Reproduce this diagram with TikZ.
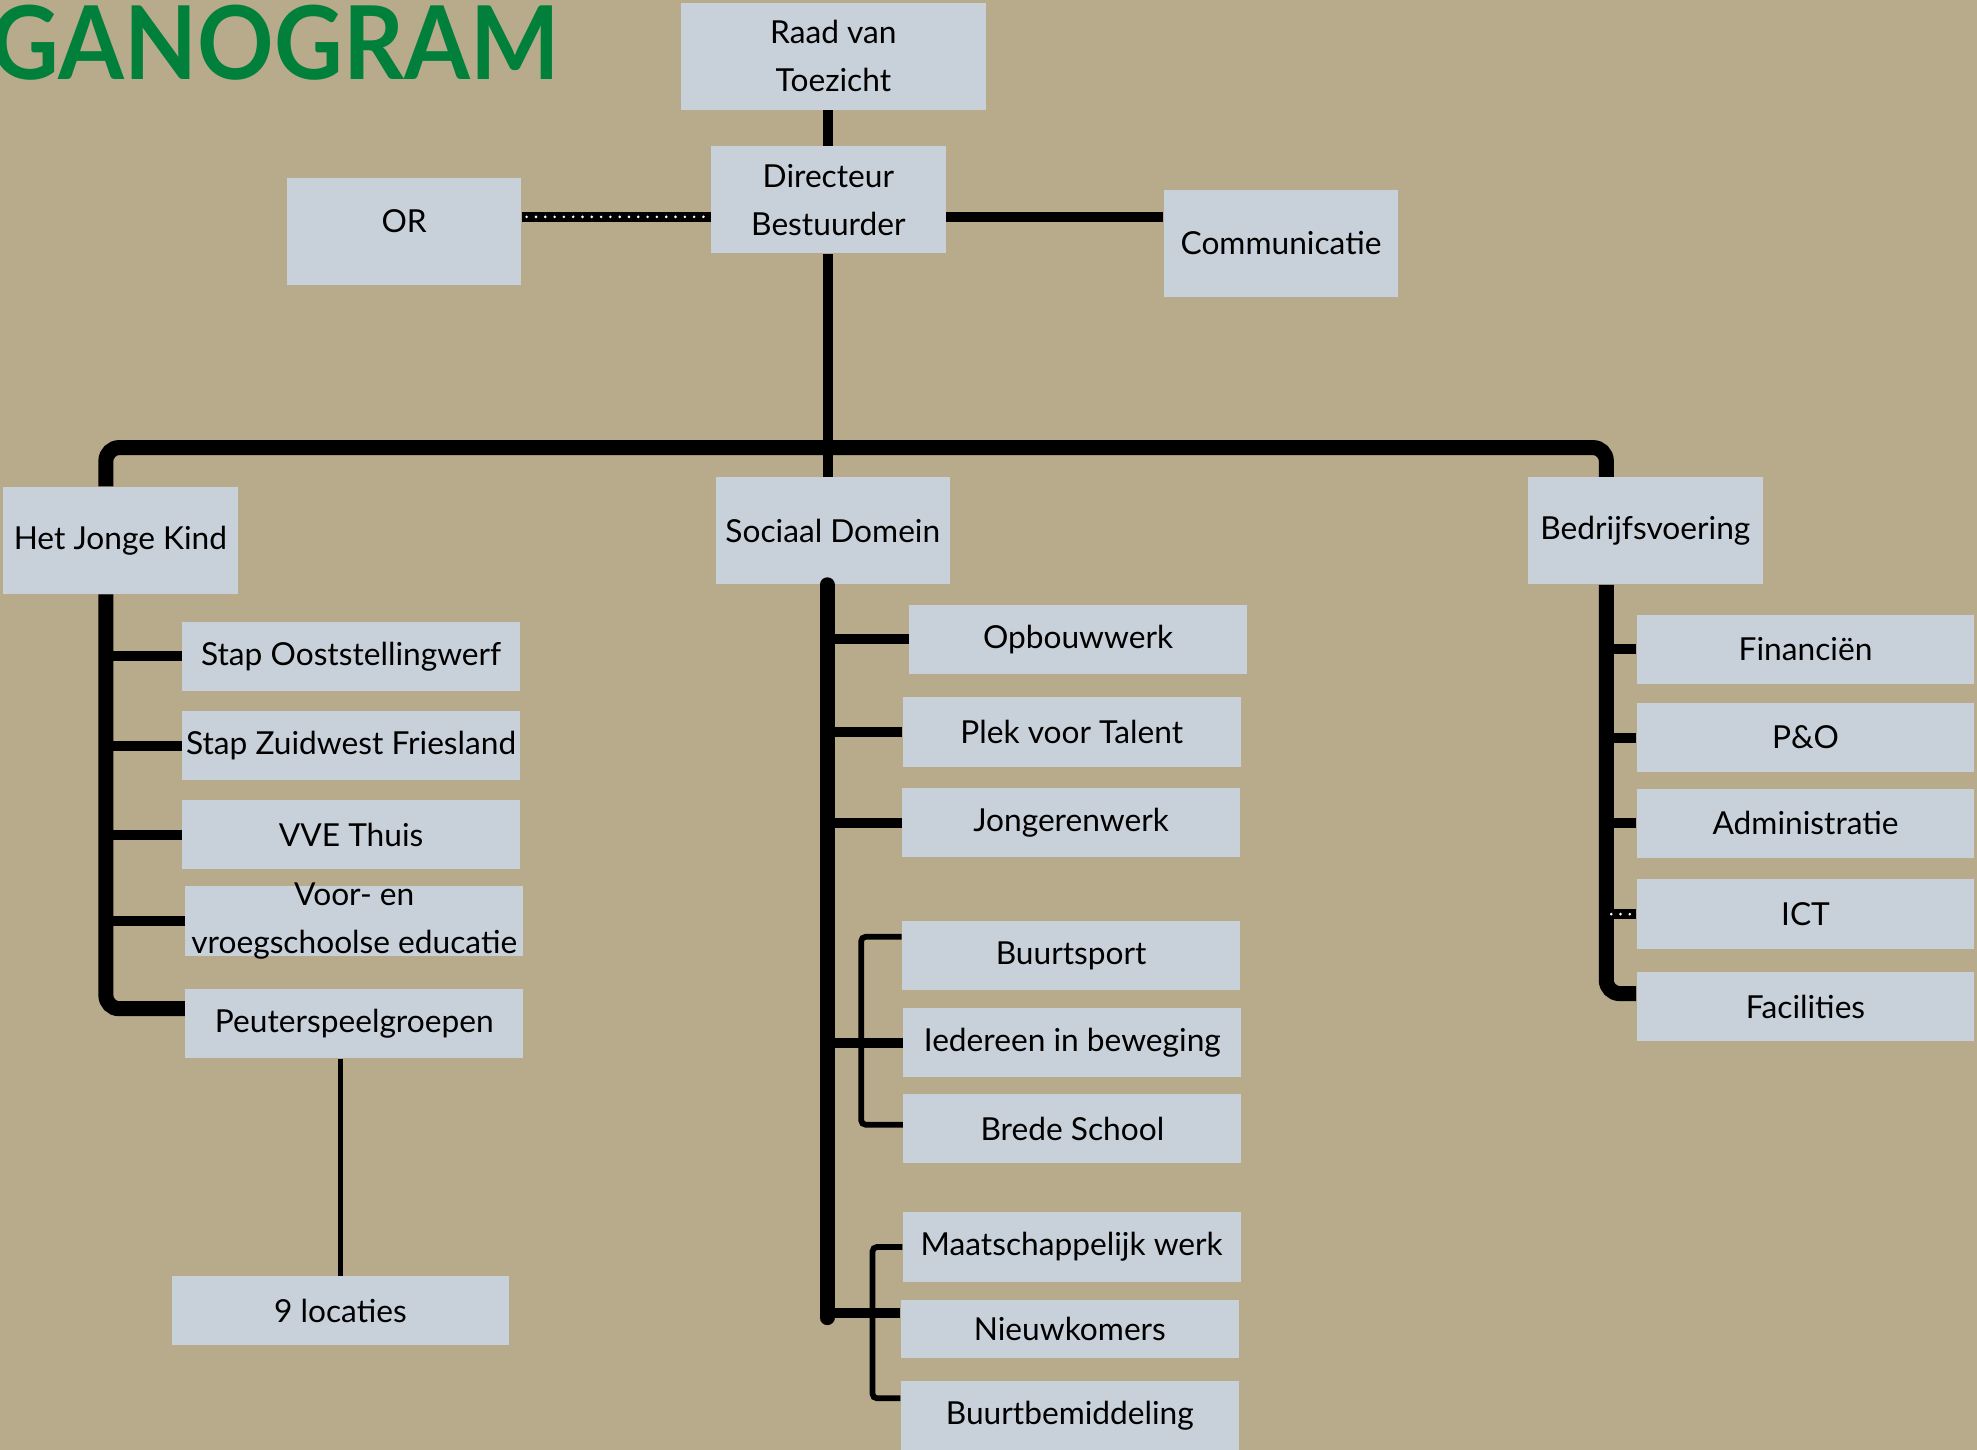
\documentclass[tikz,border=0pt]{standalone}
\usepackage{fontspec}
\setmainfont{Lato}
\definecolor{bgtan}{RGB}{183,171,140}
\definecolor{boxgray}{RGB}{200,208,217}
\definecolor{titlegreen}{RGB}{0,128,58}
\tikzset{
	unitbox/.style={fill=boxgray, inner sep=0pt, align=center, font=\fontsize{14.3}{21.5}\selectfont},
	topbox/.style={unitbox, minimum width=3.72cm, minimum height=1.7cm},
	subbox/.style={unitbox, minimum width=5.36cm, minimum height=1.1cm},
	bus/.style={line width=6.8pt},
	link/.style={line width=4.5pt},
	thinlink/.style={line width=2.6pt},
	dotline/.style={white, line width=1.3pt, line cap=round, dash pattern=on 0pt off 4.2pt, dash phase=2pt},
}
\begin{document}
\begin{tikzpicture}[x=0.02cm,y=-0.02cm]
		\useasboundingbox (0,0) rectangle (1568,1150);
		\clip (0,0) rectangle (1568,1150);
		\fill[bgtan] (0,0) rectangle (1568,1150);
		\node[anchor=east, inner sep=0pt, text=titlegreen, font=\fontsize{46}{46}\selectfont\bfseries] (title) at (444,34) {\scalebox{0.93}[1]{GANOGRAM}};
		\coordinate (busL) at (84,355);
		\coordinate (busR) at (1274,355);
		\coordinate (midT) at (656,1045);
		\coordinate (grpA) at (683,0);
		\coordinate (grpB) at (692,0);
		\node[topbox, minimum width=4.84cm] (raad) at (661,44.5) {Raad van\\Toezicht};
		\node[topbox] (dir) at (657,158.5) {Directeur\\Bestuurder};
		\node[topbox, text depth=0.34cm] (or) at (320.5,183.5) {OR};
		\node[topbox] (com) at (1016,193) {Communicatie};
		\node[topbox] (hjk) at (95.5,428.5) {Het Jonge Kind};
		\node[topbox] (sd) at (660.5,421) {Sociaal Domein};
		\node[topbox] (bv) at (1305,421) {Bedrijfsvoering};
		\node[subbox] (so) at (278.5,520.5) {Stap Ooststellingwerf};
		\node[subbox] (szf) at (278.5,591.5) {Stap Zuidwest Friesland};
		\node[subbox] (vve) at (278.5,662) {VVE Thuis};
		\node[subbox] (vse) at (281,730.5) {};
		\node[align=center, inner sep=0pt, font=\fontsize{14.3}{21.5}\selectfont] (vsetext) at (vse) {Voor- en\\vroegschoolse educatie};
		\node[subbox] (peu) at (281,812) {Peuterspeelgroepen};
		\node[subbox] (loc) at (270,1039.5) {9 locaties};
		\node[subbox] (opb) at (855,507) {Opbouwwerk};
		\node[subbox] (plek) at (850,580.5) {Plek voor Talent};
		\node[subbox] (jong) at (849.5,652.5) {Jongerenwerk};
		\node[subbox] (bsp) at (849.5,758) {Buurtsport};
		\node[subbox] (ieb) at (850.5,827) {Iedereen in beweging};
		\node[subbox] (brs) at (850.5,895) {Brede School};
		\node[subbox] (mw) at (850,989) {Maatschappelijk werk};
		\node[subbox, minimum height=0.92cm] (nk) at (848.5,1054) {Nieuwkomers};
		\node[subbox] (bbm) at (848.5,1122.5) {Buurtbemiddeling};
		\node[subbox] (fin) at (1432,515) {Financiën};
		\node[subbox] (po) at (1432,585) {P\&O};
		\node[subbox] (adm) at (1432,653) {Administratie};
		\node[subbox] (ict) at (1432,725) {ICT};
		\node[subbox] (fac) at (1432,798.5) {Facilities};
		\coordinate (dirW) at ([yshift=-0.27cm]dir.west);
		\coordinate (dirE) at ([yshift=-0.27cm]dir.east);
		\coordinate (peuA) at ([yshift=0.24cm]peu.west);
		\coordinate (nkA) at ([yshift=0.26cm]nk.west);
		\coordinate (bspA) at ([yshift=0.3cm]bsp.west);
		\coordinate (brsA) at ([yshift=0.06cm]brs.west);
		\coordinate (bbmA) at ([yshift=0.27cm]bbm.west);
		\coordinate (facA) at ([yshift=0.21cm]fac.west);
		\draw[link] (raad.south -| dir) -- (dir.north);
		\draw[link] (dirW -| or.east) -- (dirW);
		\draw[dotline] (dirW -| or.east) -- (dirW);
		\draw[link] (dirE) -- (dirE -| com.west);
		\draw[link] (dir.south) -- (dir.south |- sd.north);
		\draw[bus, rounded corners=6pt] (hjk.north -| busL) -- (busL) -- (busR) -- (bv.north -| busR);
		\draw[bus, rounded corners=6pt] (hjk.south -| busL) -- (busL |- peuA) -- (peuA);
		\foreach \n in {so,szf,vve,vse}
			\draw[link] (\n.west -| busL) -- (\n.west);
		\draw[thinlink] (loc.north) -- (loc.north |- peu.south);
		\draw[bus, line cap=round] (sd.south -| midT) -- (midT);
		\foreach \n in {opb,plek,jong,ieb}
			\draw[link] (\n.west -| midT) -- (\n.west);
		\draw[link] (nkA -| midT) -- (nkA);
		\draw[thinlink, rounded corners=2pt] (bspA) -- (bspA -| grpA) -- (brsA -| grpA) -- (brsA);
		\draw[thinlink, rounded corners=2pt] (mw.west) -- (mw.west -| grpB) -- (bbmA -| grpB) -- (bbmA);
		\draw[bus, rounded corners=6pt] (bv.south -| busR) -- (busR |- facA) -- (facA);
		\foreach \n in {fin,po,adm,ict}
			\draw[link] (\n.west -| busR) -- (\n.west);
		\draw[dotline] (ict.west -| busR) -- (ict.west);
\end{tikzpicture}
\end{document}
